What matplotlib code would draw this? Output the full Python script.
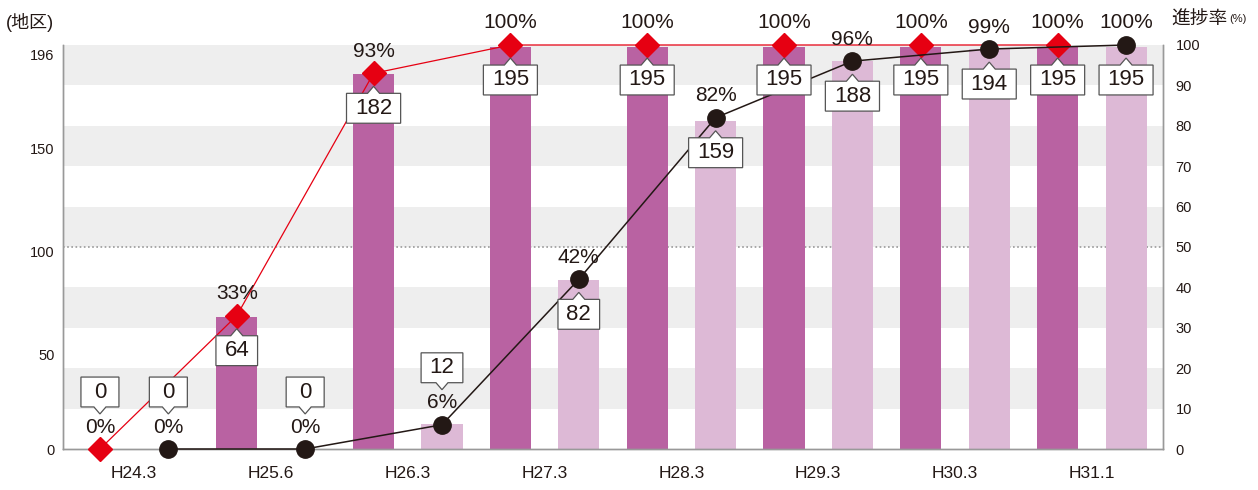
import numpy as np
import matplotlib.pyplot as plt
from matplotlib.path import Path
from matplotlib.transforms import ScaledTranslation

plt.rcParams['font.family'] = ['Liberation Sans', 'Noto Sans CJK JP']

periods = ['H24.3', 'H25.6', 'H26.3', 'H27.3', 'H28.3', 'H29.3', 'H30.3', 'H31.1']
count_a = [0, 64, 182, 195, 195, 195, 195, 195]
count_b = [0, 0, 12, 82, 159, 188, 194, 195]
rate_a = [0, 33, 93, 100, 100, 100, 100, 100]
rate_b = [0, 0, 6, 42, 82, 96, 99, 100]
left_ticks = [0, 50, 100, 150, 196]
right_ticks = list(range(0, 101, 10))

dark = '#b962a2'
light = '#ddb9d6'
red = '#e60012'
black = '#231815'
txt = '#231815'


def callout(notch):
    # white label box with a small pointer on top or bottom
    def style(x0, y0, width, height, mutation_size):
        px, py = 0.38 * mutation_size, 0.2 * mutation_size
        px = max(px, (38 - width) / 2)
        x0, y0 = x0 - px, y0 - py
        x1, y1 = x0 + width + 2 * px, y0 + height + 2 * py
        xm = (x0 + x1) / 2
        w, h = 6, 7
        if notch == 'top':
            v = [(x0, y0), (x1, y0), (x1, y1), (xm + w, y1), (xm, y1 + h),
                 (xm - w, y1), (x0, y1), (x0, y0)]
        else:
            v = [(x0, y0), (xm - w, y0), (xm, y0 - h), (xm + w, y0), (x1, y0),
                 (x1, y1), (x0, y1), (x0, y0)]
        return Path(v, closed=True)
    return style


fig = plt.figure(figsize=(12.58, 4.9), dpi=100)
ax = fig.add_axes([63 / 1258, 41 / 490, 1100 / 1258, 404 / 490])
ax2 = ax.twinx()

x = np.arange(len(periods))
off, bw = 0.25, 0.30

# background stripes and the 50% dotted line
step = 196 / 10
for k in range(1, 10, 2):
    ax.axhspan(k * step, (k + 1) * step, color='#eeeeee', lw=0, zorder=0)
ax.axhline(5 * step, color='#999999', lw=1.2, ls=(0, (1, 1.5)), zorder=0.5)

ax.bar(x - off, count_a, bw, color=dark, zorder=1)
ax.bar(x + off, count_b, bw, color=light, zorder=1)

ax.set_xlim(-0.52, 7.52)
ax.set_ylim(0, 196)
ax2.set_ylim(0, 100)

ax2.plot(x - off, rate_a, color=red, lw=0.9, marker='D', ms=12.5,
         mec=red, mfc=red, clip_on=False, zorder=3)
ax2.plot(x + off, rate_b, color=black, lw=1.1, marker='o', ms=12.5,
         mec=black, mfc=black, clip_on=False, zorder=3)

box_kw = dict(fc='white', ec='#555555', lw=0.9)
for xs, counts, rates in [(x - off, count_a, rate_a), (x + off, count_b, rate_b)]:
    for xi, c, r in zip(xs, counts, rates):
        ax2.annotate(f'{r}%', (xi, r), xytext=(0, 22), textcoords='offset pixels',
                     ha='center', va='center', fontsize=15, color=txt, zorder=5)
        if r < 10:
            ax2.annotate(str(c), (xi, r), xytext=(0, 57), textcoords='offset pixels',
                         ha='center', va='center', fontsize=16, color=txt, zorder=6,
                         bbox=dict(boxstyle=callout('bottom'), **box_kw))
        else:
            ax2.annotate(str(c), (xi, r), xytext=(0, -35), textcoords='offset pixels',
                         ha='center', va='center', fontsize=16, color=txt, zorder=6,
                         bbox=dict(boxstyle=callout('top'), **box_kw))

ax.set_xticks(x)
ax.set_xticklabels(periods, fontsize=12.5, color=txt)
ax.set_yticks(left_ticks)
ax.set_yticklabels([str(t) for t in left_ticks], fontsize=10.5, color=txt)
ax2.set_yticks(right_ticks)
ax2.set_yticklabels([str(t) for t in right_ticks], fontsize=10.5, color=txt)
ax.tick_params(axis='x', length=0, pad=12)
ax.tick_params(axis='y', length=0, pad=6)
ax2.tick_params(axis='y', length=0, pad=9)

# left labels sit a little under their ticks in the original
shift = ScaledTranslation(0, -9 / 100, fig.dpi_scale_trans)
for lab in ax.get_yticklabels()[1:]:
    lab.set_transform(lab.get_transform() + shift)

for a in (ax, ax2):
    a.spines['top'].set_visible(False)
    for s in ('left', 'right', 'bottom'):
        a.spines[s].set_color('#999999')
        a.spines[s].set_linewidth(1.0)
    a.set_facecolor('none')

fig.text(6 / 1258, 1 - 22 / 490, '(地区)', fontsize=13, color=txt, va='center')
fig.text(1171 / 1258, 1 - 20 / 490, '進捗率', fontsize=13.5, color=txt, va='center')
fig.text(1229 / 1258, 1 - 19 / 490, '(%)', fontsize=8, color=txt, va='center')

fig.savefig('out.png', dpi=100)
